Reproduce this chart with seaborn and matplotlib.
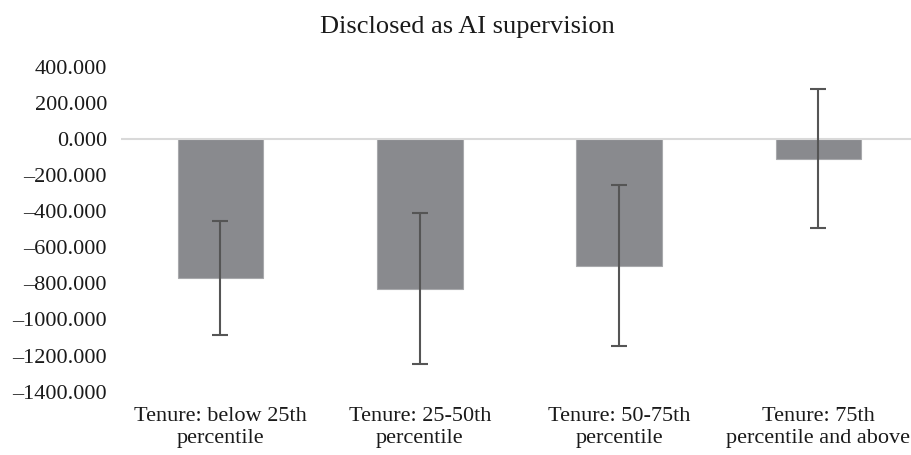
import matplotlib
matplotlib.use("Agg")
import matplotlib.pyplot as plt
import seaborn as sns
import pandas as pd
import numpy as np

categories = ["Tenure: below 25th\npercentile", "Tenure: 25-50th\npercentile",
              "Tenure: 50-75th\npercentile", "Tenure: 75th\npercentile and above"]
values = [-770, -830, -702, -110]
err_lower = [315, 418, 444, 381]
err_upper = [316, 420, 448, 387]
yticks = [400, 200, 0, -200, -400, -600, -800, -1000, -1200, -1400]
title = "Disclosed as AI supervision"

sns.set_theme(style="white")
plt.rcParams['font.family'] = ['Liberation Serif', 'DejaVu Serif']

df = pd.DataFrame({"cat": categories, "val": values})

fig = plt.figure(figsize=(9.11, 4.55), dpi=100)
ax = fig.add_axes([120.8 / 911, (455 - 391.7) / 455, (918 - 120.8) / 911, (391.7 - 66.7) / 455])

sns.barplot(data=df, x="cat", y="val", color="#898a8e", saturation=1, width=0.43,
            edgecolor="#a8a9ac", linewidth=0.8, errorbar=None, ax=ax)
ax.errorbar(np.arange(len(values)), values, yerr=[err_lower, err_upper], fmt="none",
            ecolor="#555555", elinewidth=1.5, capsize=5.5, capthick=1.5, zorder=5)

ax.axhline(0, color="#d9d9d9", lw=1.5, zorder=1)
ax.set_ylim(-1400, 400)
ax.set_xlim(-0.5, 3.5)
ax.set_yticks(yticks)
ax.set_yticklabels([f"{v:.3f}".replace("-", "\u2013") for v in yticks])
ax.tick_params(axis="y", length=0, pad=10, labelsize=16, labelcolor="#1a1a1a")
ax.tick_params(axis="x", length=0, pad=11, labelsize=16, labelcolor="#1a1a1a")
for lbl in ax.get_xticklabels():
    lbl.set_linespacing(1.25)
ax.set_xlabel("")
ax.set_ylabel("")
for s in ax.spines.values():
    s.set_visible(False)
ax.grid(False)
ax.set_facecolor("white")

fig.text(467 / 911, 1 - 27 / 455, title, ha="center", va="center", fontsize=19, color="#1a1a1a")

fig.savefig("out.png", dpi=100, facecolor="white")
